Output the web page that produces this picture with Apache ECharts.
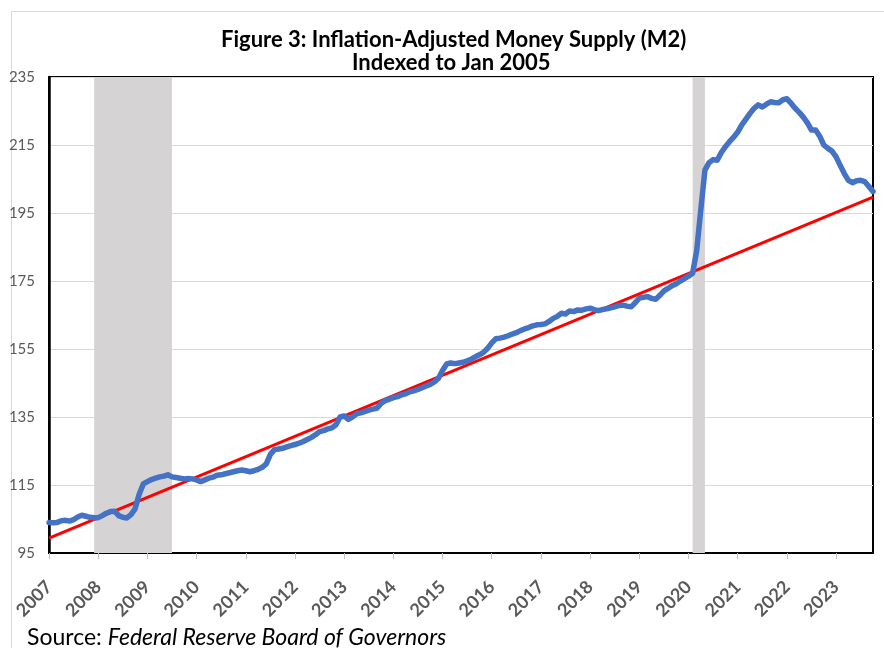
<!DOCTYPE html>
<html>
<head>
<meta charset="utf-8">
<script src="https://cdn.jsdelivr.net/npm/echarts@6/dist/echarts.min.js"></script>
<style>
html,body{margin:0;padding:0;background:#fff;}
#chart{width:884px;height:648px;}
</style>
</head>
<body>
<div id="chart"></div>
<script>
// ---- Data ----
const startYear = 2007;
const yearLabels = ['2007','2008','2009','2010','2011','2012','2013','2014','2015','2016','2017','2018','2019','2020','2021','2022','2023'];
const m2_2007 = [104.0, 103.9, 104.0, 104.5, 104.6, 104.4, 104.8, 105.6, 106.1, 105.8, 105.5, 105.4];
const m2_2008 = [105.4, 106.0, 106.7, 107.2, 107.3, 106.0, 105.5, 105.3, 106.3, 108.0, 112.3, 115.3];
const m2_2009 = [116.0, 116.6, 117.0, 117.4, 117.6, 118.0, 117.4, 117.2, 117.0, 116.8, 116.9, 116.8];
const m2_2010 = [116.5, 116.0, 116.5, 117.0, 117.3, 117.9, 118.0, 118.3, 118.6, 118.9, 119.2, 119.4];
const m2_2011 = [119.2, 118.9, 119.2, 119.6, 120.2, 121.2, 124.0, 125.4, 125.6, 125.8, 126.2, 126.6];
const m2_2012 = [126.9, 127.3, 127.8, 128.4, 129.0, 129.8, 130.7, 131.0, 131.5, 131.8, 132.7, 135.0];
const m2_2013 = [135.3, 134.3, 135.0, 135.9, 136.2, 136.6, 137.0, 137.3, 137.6, 139.0, 139.8, 140.2];
const m2_2014 = [140.7, 141.0, 141.5, 141.8, 142.4, 142.7, 143.1, 143.6, 144.1, 144.6, 145.3, 146.4];
const m2_2015 = [148.7, 150.6, 150.9, 150.7, 150.9, 151.1, 151.5, 152.0, 152.7, 153.3, 154.0, 155.2];
const m2_2016 = [156.8, 158.0, 158.2, 158.5, 158.9, 159.4, 159.8, 160.4, 160.9, 161.3, 161.8, 162.1];
const m2_2017 = [162.2, 162.4, 163.1, 164.0, 164.6, 165.5, 165.3, 166.2, 166.0, 166.5, 166.4, 166.8];
const m2_2018 = [167.0, 166.6, 166.3, 166.6, 166.8, 167.1, 167.4, 167.8, 167.9, 167.6, 167.4, 168.6];
const m2_2019 = [170.0, 170.2, 170.4, 169.9, 169.6, 170.8, 172.1, 172.8, 173.6, 174.2, 175.0, 175.7];
const m2_2020 = [176.4, 177.3, 184.0, 196.0, 207.6, 209.8, 210.7, 210.5, 212.8, 214.5, 216.0, 217.3];
const m2_2021 = [218.8, 220.9, 222.6, 224.3, 225.8, 226.8, 226.2, 227.0, 227.7, 227.5, 227.4, 228.3];
const m2_2022 = [228.6, 227.3, 225.8, 224.6, 223.2, 221.5, 219.4, 219.4, 217.6, 215.0, 214.0, 213.2];
const m2_2023 = [211.5, 209.0, 206.6, 204.6, 203.9, 204.5, 204.6, 204.2, 202.8, 201.3];
const trendStart = 99.4;
const trendEnd = 199.7;
// recession periods as [start category index, end category index]
const recessions = [[11, 30], [157, 160]];

const m2Values = [].concat(m2_2007, m2_2008, m2_2009, m2_2010, m2_2011, m2_2012, m2_2013, m2_2014,
  m2_2015, m2_2016, m2_2017, m2_2018, m2_2019, m2_2020, m2_2021, m2_2022, m2_2023);
const categories = m2Values.map((v, i) => {
  const y = startYear + Math.floor(i / 12);
  const m = (i % 12) + 1;
  return y + '-' + (m < 10 ? '0' + m : m);
});

const FONT = 'Lato, "Open Sans", sans-serif';
const chart = echarts.init(document.getElementById('chart'), null, {renderer: 'canvas'});
const isJan = (idx) => idx % 12 === 0;

chart.setOption({
  backgroundColor: '#ffffff',
  animation: false,
  textStyle: {fontFamily: FONT},
  graphic: [
    {type: 'rect', left: 9, top: 9, shape: {width: 900, height: 700}, style: {fill: 'none', stroke: '#d9d9d9', lineWidth: 1}, silent: true, z: -10},
    {type: 'text', left: 221, top: 29, style: {text: 'Figure 3: Inflation-Adjusted Money Supply (M2)', fill: '#000', font: 'bold 22px ' + FONT}},
    {type: 'text', left: 352, top: 52, style: {text: 'Indexed to Jan 2005', fill: '#000', font: 'bold 22px ' + FONT}},
    {type: 'text', left: 27, top: 626, style: {rich: {n: {font: '23px ' + FONT, fill: '#000'}, i: {font: 'italic 23px ' + FONT, fill: '#000'}}, text: '{n|Source: }{i|Federal Reserve Board of Governors}'}}
  ],
  grid: {left: 49, right: 11, top: 77, bottom: 95, show: true, borderColor: '#000', borderWidth: 2, containLabel: false},
  xAxis: {
    type: 'category',
    data: categories,
    boundaryGap: false,
    axisLine: {show: true, lineStyle: {color: '#000', width: 2}},
    axisTick: {show: true, interval: isJan, length: 6, lineStyle: {color: '#bfbfbf'}},
    axisLabel: {
      interval: isJan,
      rotate: 45,
      margin: 31,
      color: '#595959',
      fontWeight: 'bold',
      fontSize: 18,
      fontFamily: FONT,
      formatter: (v) => v.slice(0, 4)
    },
    splitLine: {show: false}
  },
  yAxis: {
    type: 'value',
    min: 95,
    max: 235,
    interval: 20,
    axisLine: {show: true, lineStyle: {color: '#000', width: 2.5}},
    axisTick: {show: false},
    axisLabel: {color: '#595959', fontSize: 15, fontFamily: FONT, margin: 14},
    splitLine: {show: true, lineStyle: {color: '#d9d9d9', width: 1}}
  },
  series: [
    {
      name: 'Recessions',
      type: 'line',
      data: [],
      z: 1,
      silent: true,
      markArea: {
        silent: true,
        itemStyle: {color: '#d5d3d4', opacity: 1},
        data: recessions.map(r => [{xAxis: categories[r[0]]}, {xAxis: categories[r[1]]}])
      }
    },
    {
      name: 'Trend',
      type: 'line',
      data: [[categories[0], trendStart], [categories[categories.length - 1], trendEnd]],
      showSymbol: false,
      lineStyle: {color: '#ff0000', width: 3},
      z: 3
    },
    {
      name: 'Real M2',
      type: 'line',
      data: m2Values,
      showSymbol: false,
      lineStyle: {color: '#4472c4', width: 5.5, join: 'round', cap: 'round'},
      z: 4
    }
  ]
});
</script>
</body>
</html>
